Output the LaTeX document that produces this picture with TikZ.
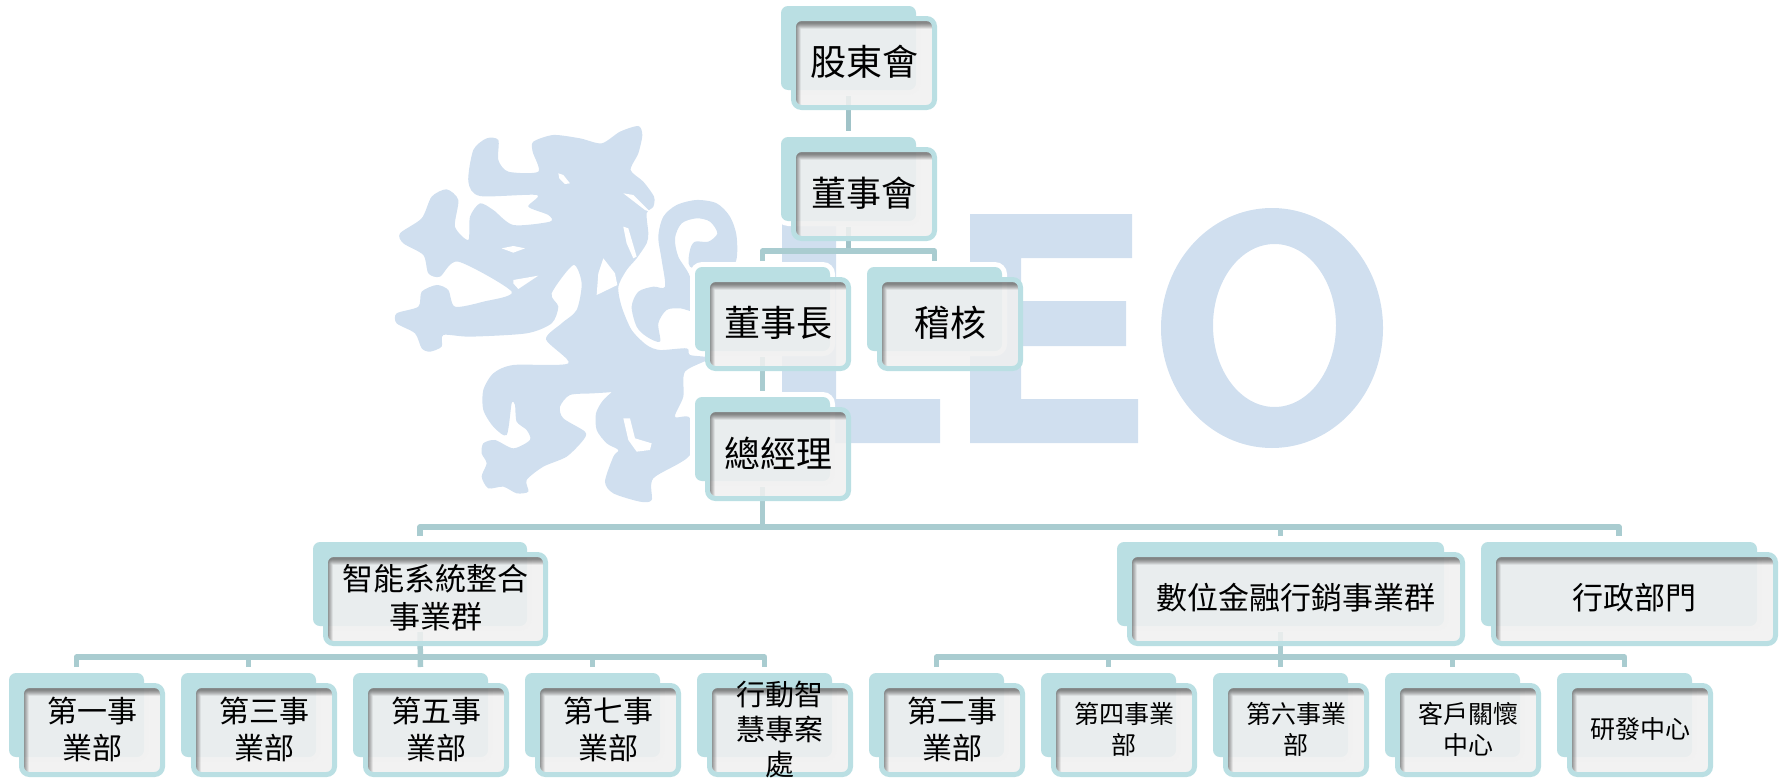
\documentclass[tikz,border=0pt]{standalone}
\usepackage{fontspec}
\newfontfamily\cjk{Noto Sans CJK TC}
\definecolor{logoblue}{HTML}{D0DFEF}
\definecolor{cardteal}{HTML}{BADFE3}
\definecolor{connline}{HTML}{A9CCD0}
\definecolor{connstem}{HTML}{A0C3C8}
\definecolor{frontfill}{HTML}{F0F0F0}
\tikzset{
  logoshape/.style={fill=logoblue,draw=none},
  backbox/.style={rectangle,fill=cardteal,rounded corners=7pt,inner sep=0pt,outer sep=0pt,minimum height=84pt},
  frontbox/.style={rectangle,draw=cardteal,line width=5pt,fill=frontfill,fill opacity=.87,draw opacity=1,rounded corners=8pt,inner sep=0pt,outer sep=0pt,minimum height=89pt},
  cardtext/.style={align=center,text=black,inner sep=0pt},
  conn/.style={draw=connline,line width=5.5pt,line join=round},
  stem/.style={draw=connstem,line width=5.5pt},
}
% id, x0, y0, back width
\newcommand{\cardback}[4]{%
  \fill[white,rounded corners=12pt] ({#2-5},{#3-5}) rectangle ({#2+#4+5},{#3+89});
  \node[backbox,minimum width=#4pt] (#1) at ({#2+#4/2},{#3+42}) {};
}
% id, x0, y0, back width, font size, line skip, text
\newcommand{\cardfront}[7]{%
  \node[frontbox,minimum width={(#4+6)*1pt}] (#1f) at ({#2+#4/2+15.5},{#3+57}) {};
  \begin{scope}
    \clip[rounded corners=6pt] ({#2+15},{#3+15}) rectangle ({#2+#4+16},{#3+99});
    \foreach \lw in {2,4,6,8,10,12}{
      \draw[black,draw opacity=.09,line width=\lw pt,rounded corners=6pt]
        ({#2+13.5},{#3+16.5}) rectangle ({#2+#4+30},{#3+115});
    }
  \end{scope}
  \node[cardtext,font=\cjk\fontsize{#5}{#6}\selectfont] (#1t) at ({#2+#4/2+15.5},{#3+56}) {#7};
}
\begin{document}
\begin{tikzpicture}[x=1pt,y=-1pt]
\useasboundingbox (0,0) rectangle (1785,779);

% ---- watermark logo: lion + LEO
\begin{scope}[x=0.33333pt,y=-0.33333pt,shift={(1140,330)}]
  % tail
  \fill[logoshape] plot[smooth cycle,tension=.5] coordinates {
    (755,590)(775,545)(820,530)(855,530)(845,450)(835,380)(850,320)(890,285)(950,270)
    (1010,280)(1050,320)(1070,380)(1065,460)(1000,480)(930,470)(930,420)(945,395)(985,395)
    (1012,370)(990,335)(950,325)(905,340)(885,385)(895,440)(930,500)(950,600)(900,595)
    (860,600)(835,640)(840,695)(800,680)(770,650)};
  % body
  \fill[logoshape] plot[smooth cycle,tension=.45] coordinates {
    (460,95)(520,75)(600,85)(665,100)(720,65)(775,48)(787,75)(775,130)(752,180)(790,215)
    (822,260)(820,290)(800,310)(805,370)(800,400)(770,445)(740,480)(715,530)(725,590)
    (755,660)(800,705)(840,720)(920,715)(930,735)(990,745)(915,785)(910,860)(885,920)
    (930,925)(930,1035)(820,1105)(815,1170)(780,1175)(700,1150)(675,1115)(700,1040)(715,1020)
    (680,1000)(650,960)(648,910)(670,870)(715,830)(700,845)(640,850)(570,855)(540,890)
    (550,925)(615,965)(610,990)(560,1040)(490,1070)(440,1110)(445,1145)(410,1150)(370,1130)
    (325,1135)(305,1100)(320,1060)(305,1030)(310,1000)(345,990)(400,1015)(450,990)(440,960)
    (410,935)(405,885)(395,880)(380,975)(340,950)(310,900)(310,840)(340,790)(400,765)(565,760)
    (498,688)(545,640)(590,600)(605,520)(580,465)(515,550)(535,590)(515,640)(440,670)(270,680)
    (190,675)(185,710)(150,725)(125,715)(105,670)(50,640)(50,610)(115,590)(125,545)(170,525)
    (205,540)(225,590)(310,575)(395,545)(235,455)(180,500)(145,490)(130,435)(70,400)(60,370)
    (125,325)(155,260)(200,238)(235,270)(225,350)(265,390)(270,320)(300,280)(340,300)(400,345)
    (510,335)(505,315)(445,290)(470,255)(300,258)(265,215)(280,120)(320,85)(355,90)(355,150)
    (385,185)(475,185)(458,125)};
  % holes
  \fill[white] (535,190)--(550,195)--(570,220)--(555,222)--(538,205)--cycle;
  \fill[white] (365,415)--(400,408)--(435,415)--(400,428)--cycle;
  \fill[white] (400,510)--(475,497)--(415,537)--(400,520)--cycle;
  \fill[white] (670,445)--(705,490)--(712,525)--(650,555)--(655,490)--cycle;
  \fill[white] (730,250)--(760,255)--(810,305)--(795,300)--cycle;
  \fill[white] (730,350)--(745,355)--(770,440)--(760,445)--(740,400)--cycle;
  \fill[white] (730,925)--(750,925)--(765,985)--(815,1000)--(810,1020)--(770,1025)--(745,990)--cycle;
\end{scope}
\fill[logoshape] (782,214) -- (836,214) -- (836,399) -- (940,399) -- (940,443) -- (782,443) -- cycle;
\fill[logoshape] (970,214) -- (1132,214) -- (1132,258) -- (1021,258) -- (1021,301) -- (1126,301)
  -- (1126,346) -- (1021,346) -- (1021,399) -- (1138,399) -- (1138,443) -- (970,443) -- cycle;
\fill[logoshape,even odd rule] (1272,328) ellipse [x radius=111,y radius=120]
  (1274.5,325.5) ellipse [x radius=61.5,y radius=81.5];

% ---- back plates
\cardback{sh}{781}{6}{135}
\cardback{ds}{781}{137}{135}
\cardback{dz}{695}{267}{135}
\cardback{jh}{867}{267}{135}
\cardback{zj}{695}{397}{135}
\cardback{zn}{313}{542}{214}
\cardback{sw}{1117}{542}{327}
\cardback{xz}{1481}{542}{276}
\cardback{aa}{9}{673}{135}
\cardback{ab}{181}{673}{135}
\cardback{ac}{353}{673}{135}
\cardback{ad}{525}{673}{135}
\cardback{ae}{697}{673}{135}
\cardback{ba}{869}{673}{135}
\cardback{bb}{1041}{673}{135}
\cardback{bc}{1213}{673}{135}
\cardback{bd}{1385}{673}{135}
\cardback{be}{1557}{673}{135}

% ---- connectors
\draw[stem] ([yshift=-6pt]sh.south) -- ([yshift=6pt]ds.north);
\draw[conn] ([yshift=-6pt]dz.south) -- ([yshift=6pt]zj.north);

\coordinate (busds) at ([yshift=-30pt]ds.south);
\draw[stem] ([yshift=-6pt]ds.south) -- (busds);
\draw[conn] ([yshift=6pt]dz.north) |- (busds) -| ([yshift=6pt]jh.north);

\coordinate (buszj) at ([yshift=-46pt]zj.south);
\draw[conn] ([yshift=-6pt]zj.south) -- (buszj);
\draw[conn] ([yshift=6pt]zn.north) |- (buszj) -| ([yshift=6pt]xz.north);
\draw[conn] ([yshift=6pt]sw.north) -- (sw.north |- buszj);

\coordinate (buszn) at ([yshift=-31pt]zn.south);
\draw[conn] ([yshift=-6pt]zn.south) -- ([yshift=6pt]ac.north);
\draw[conn] ([yshift=6pt]aa.north) |- (buszn) -| ([yshift=6pt]ae.north);
\draw[conn] ([yshift=6pt]ab.north) -- (ab.north |- buszn);
\draw[conn] ([yshift=6pt]ad.north) -- (ad.north |- buszn);

\coordinate (bussw) at ([yshift=-31pt]sw.south);
\draw[conn] ([yshift=-6pt]sw.south) -- ([yshift=6pt]bc.north);
\draw[conn] ([yshift=6pt]ba.north) |- (bussw) -| ([yshift=6pt]be.north);
\draw[conn] ([yshift=6pt]bb.north) -- (bb.north |- bussw);
\draw[conn] ([yshift=6pt]bd.north) -- (bd.north |- bussw);

% ---- front plates with text
\cardfront{sh}{781}{6}{135}{36}{38}{股東會}
\cardfront{ds}{781}{137}{135}{35}{38}{董事會}
\cardfront{dz}{695}{267}{135}{36}{38}{董事長}
\cardfront{jh}{867}{267}{135}{36}{38}{稽核}
\cardfront{zj}{695}{397}{135}{36}{38}{總經理}
\cardfront{zn}{313}{542}{214}{31}{38}{智能系統整合\\事業群}
\cardfront{sw}{1117}{542}{327}{31}{38}{數位金融行銷事業群}
\cardfront{xz}{1481}{542}{276}{31}{38}{行政部門}
\cardfront{aa}{9}{673}{135}{30}{37}{第一事\\業部}
\cardfront{ab}{181}{673}{135}{30}{37}{第三事\\業部}
\cardfront{ac}{353}{673}{135}{30}{37}{第五事\\業部}
\cardfront{ad}{525}{673}{135}{30}{37}{第七事\\業部}
\cardfront{ae}{697}{673}{135}{29}{35}{行動智\\慧專案\\處}
\cardfront{ba}{869}{673}{135}{30}{37}{第二事\\業部}
\cardfront{bb}{1041}{673}{135}{25}{31}{第四事業\\部}
\cardfront{bc}{1213}{673}{135}{25}{31}{第六事業\\部}
\cardfront{bd}{1385}{673}{135}{25}{31}{客戶關懷\\中心}
\cardfront{be}{1557}{673}{135}{25}{31}{研發中心}
\end{tikzpicture}
\end{document}
